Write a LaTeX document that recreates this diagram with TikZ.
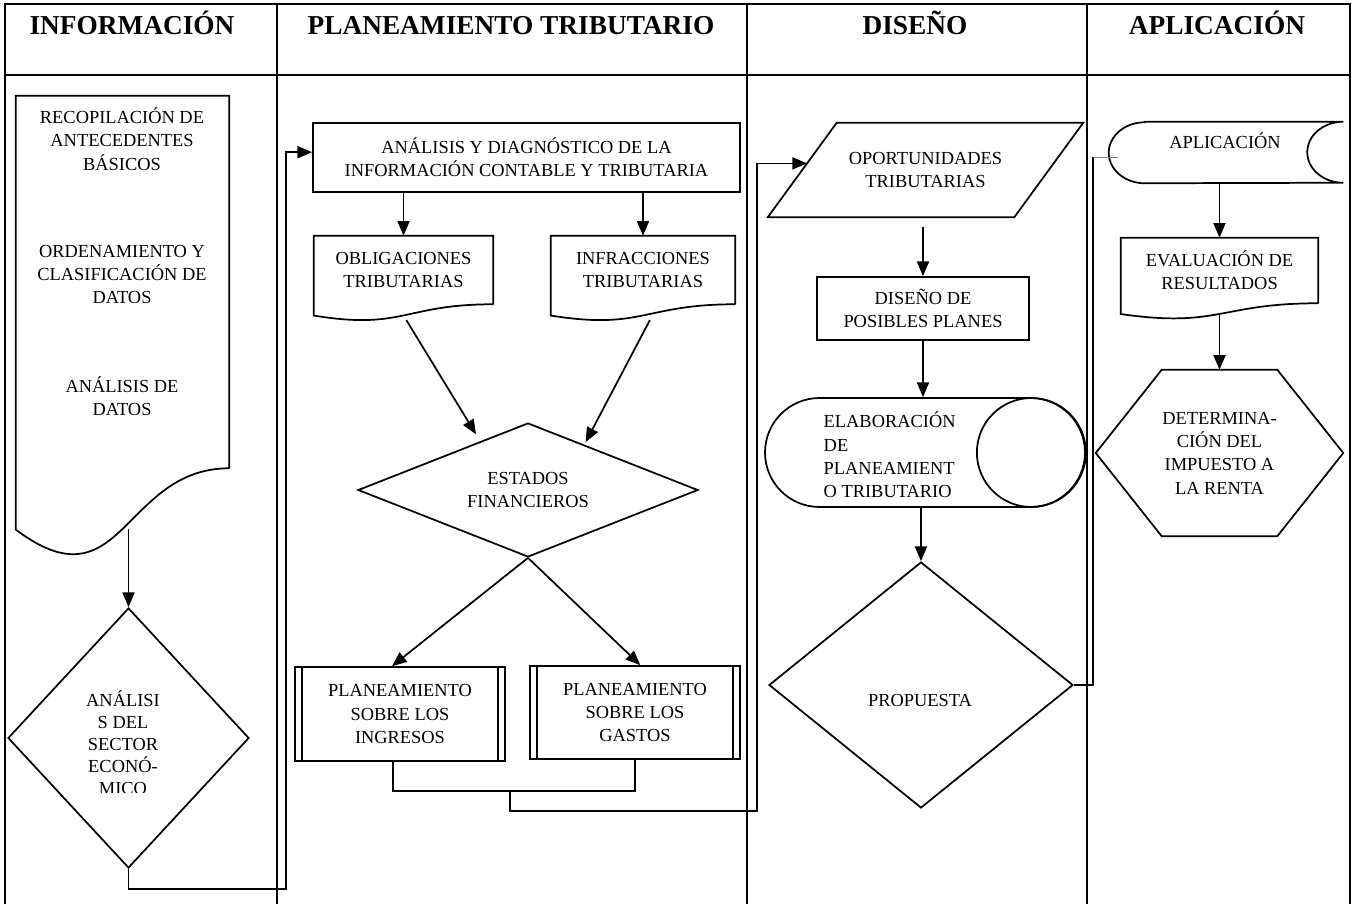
\documentclass[tikz,border=0pt]{standalone}
\usepackage{fontspec}
\setmainfont{Liberation Serif}
\usetikzlibrary{shapes.geometric,shapes.misc,arrows.meta,calc}

\tikzset{
  every node/.style={font=\fontsize{13.8}{17.5}\selectfont, align=center},
  head/.style={font=\fontsize{20.5}{24}\selectfont\bfseries, anchor=base},
  frame/.style={line width=1.8pt},
  box/.style={draw, line width=1.3pt, rectangle},
  ghost/.style={rectangle, inner sep=0pt},
  flow/.style={line width=1.3pt, -{Triangle[length=11pt,width=9pt]}},
  link/.style={line width=1.3pt},
}
\newcommand{\docshape}[1]{%
  \draw[link] (#1.south east) -- (#1.north east) -- (#1.north west)
    -- ($(#1.north west)!1.1646!(#1.south west)$)
    .. controls ($(#1.north)!1.380!(#1.south)$) and (#1.south) .. (#1.south east)
    coordinate[pos=0.5] (#1-b);}

\begin{document}
\begin{tikzpicture}[x=0.75pt,y=-0.75pt]
\useasboundingbox (0,0) rectangle (1354,904);

\draw[frame] (5,904) -- (5,4) -- (1350,4) -- (1350,904);
\draw[frame] (5,75) -- (1350,75);
\foreach \x in {277,747,1087} \draw[frame] (\x,4) -- (\x,904);

\node[head] (h1) at (132,34) {INFORMACIÓN};
\node[head] (h2) at (511,34) {PLANEAMIENTO TRIBUTARIO};
\node[head] (h3) at (915,34) {DISEÑO};
\node[head] (h4) at (1217,34) {APLICACIÓN};

% informacion
\node[ghost, minimum width=159.75pt, minimum height=279pt] (recop) at (122.5,282) {};
\docshape{recop}
\node (recop1) at (122,139) {RECOPILACIÓN DE\\ANTECEDENTES\\BÁSICOS};
\node (recop2) at (122,274.5) {ORDENAMIENTO Y\\CLASIFICACIÓN DE\\DATOS};
\node (recop3) at (122,396) {ANÁLISIS DE\\DATOS};

\node[diamond, draw, line width=1.3pt, minimum width=180.75pt, minimum height=195pt, inner sep=0pt] (sect) at (128.5,738) {};
\begin{scope}
  \clip (5,600) rectangle (277,792);
  \node[font=\fontsize{13.8}{16.5}\selectfont] (sectt) at (123,743) {ANÁLISI\\S DEL\\SECTOR\\ECONÓ-\\MICO};
\end{scope}

% planeamiento tributario
\node[box, minimum width=320.25pt, minimum height=51.75pt] (anal) at (526.5,157.5) {ANÁLISIS Y DIAGNÓSTICO DE LA\\INFORMACIÓN CONTABLE Y TRIBUTARIA};
\node[ghost, minimum width=134.25pt, minimum height=51pt] (oblig) at (403.5,270) {OBLIGACIONES\\TRIBUTARIAS};
\docshape{oblig}
\node[ghost, minimum width=138pt, minimum height=51pt] (infra) at (643,270) {INFRACCIONES\\TRIBUTARIAS};
\docshape{infra}
\node[diamond, aspect=2.5, draw, line width=1.3pt, minimum width=255pt, minimum height=100.5pt, inner sep=0pt] (estad) at (528,490) {ESTADOS\\FINANCIEROS};
\node[box, minimum width=157.5pt, minimum height=70.5pt] (ingr) at (400,714) {PLANEAMIENTO\\SOBRE LOS\\INGRESOS};
\node[box, minimum width=157.5pt, minimum height=69.75pt] (gast) at (635,712.5) {PLANEAMIENTO\\SOBRE LOS\\GASTOS};
\foreach \n in {ingr,gast} {
  \draw[link] ([xshift=6pt]\n.north west) -- ([xshift=6pt]\n.south west);
  \draw[link] ([xshift=-6pt]\n.north east) -- ([xshift=-6pt]\n.south east);
}

% diseno
\node[ghost, minimum width=236.25pt, minimum height=70.5pt] (oport) at (925.5,170) {OPORTUNIDADES\\TRIBUTARIAS};
\draw[link] ([xshift=51.75pt]oport.north west) -- (oport.north east) -- ([xshift=-51.75pt]oport.south east) -- (oport.south west) -- cycle;
\coordinate (oporin) at ($(oport.south west)!0.57!([xshift=51.75pt]oport.north west)$);
\node[box, minimum width=159pt, minimum height=47.25pt] (disen) at (923,308.5) {DISEÑO DE\\POSIBLES PLANES};
\node[rounded rectangle, draw, line width=1.3pt, minimum width=240pt, minimum height=81.75pt, inner sep=0pt] (elab) at (925,452.5) {};
\draw[link] ([xshift=-40.875pt]elab.east) circle[radius=40.875pt];
\node[anchor=west, align=left] (elabt) at (819,455) {ELABORACIÓN\\DE\\PLANEAMIENT\\O TRIBUTARIO};
\node[diamond, draw, line width=1.3pt, minimum width=228pt, minimum height=184.5pt, inner sep=0pt] (prop) at (921,685) {};
\node (propt) at (920,700) {PROPUESTA};

% aplicacion
\node[ghost, minimum width=175.5pt, minimum height=45.75pt] (apl) at (1226,152.5) {};
\draw[link] ([xshift=27pt]apl.north west) -- (apl.north east)
  arc[start angle=90, end angle=270, x radius=27pt, y radius=22.875pt]
  -- ([xshift=27pt]apl.south west)
  arc[start angle=270, end angle=90, x radius=27pt, y radius=22.875pt] -- cycle;
\node (aplt) at (1225,141) {APLICACIÓN};
\node[ghost, minimum width=147.75pt, minimum height=48.75pt] (evalr) at (1219.5,270.5) {EVALUACIÓN DE\\RESULTADOS};
\docshape{evalr}
\node[ghost, minimum width=185.25pt, minimum height=124.5pt] (deter) at (1219.5,453) {DETERMINA-\\CIÓN DEL\\IMPUESTO A\\LA RENTA};
\draw[link] ([xshift=49.5pt]deter.north west) -- ([xshift=-49.5pt]deter.north east) -- (deter.east)
  -- ([xshift=-49.5pt]deter.south east) -- ([xshift=49.5pt]deter.south west) -- (deter.west) -- cycle;

% conectores
\coordinate (j1) at (286,889);
\coordinate (j2) at (510,791);
\coordinate (j3) at (757,811);
\coordinate (j4) at (1093,157);
\coordinate (aplin) at (1118,157);
\draw[flow] (sect.north |- recop-b) -- (sect.north);
\draw[flow] (sect.south) |- (j1) |- ([yshift=4pt]anal.west);
\draw[flow] (anal.south -| oblig.north) -- (oblig.north);
\draw[flow] (anal.south -| infra.north) -- (infra.north);
\draw[flow, shorten <=4pt, shorten >=6pt] (oblig-b) -- ($(estad.north)!0.28!(estad.west)$);
\draw[flow, shorten <=4pt, shorten >=2pt] ([xshift=7pt]infra-b) -- ($(estad.north)!0.33!(estad.east)$);
\draw[flow] (estad.south) -- ([xshift=-6pt]ingr.north);
\draw[flow] (estad.south) -- ([xshift=4pt]gast.north);
\draw[link] ([xshift=-5pt]ingr.south) |- (j2) -| (gast.south);
\draw[flow] (j2) |- (j3) |- (oporin);
\draw[flow] ([yshift=-7pt]oport.south -| disen.north) -- (disen.north);
\draw[flow] (disen.south) -- (disen.south |- elab.north);
\draw[flow] (prop.north |- elab.south) -- (prop.north);
\draw[link] (prop.east) -| (j4);
\draw[gray, line width=0.6pt] (j4) -- (aplin);
\draw[flow] (apl.south -| evalr.north) -- (evalr.north);
\draw[flow] (evalr-b) -- (evalr-b |- deter.north);
\end{tikzpicture}
\end{document}
